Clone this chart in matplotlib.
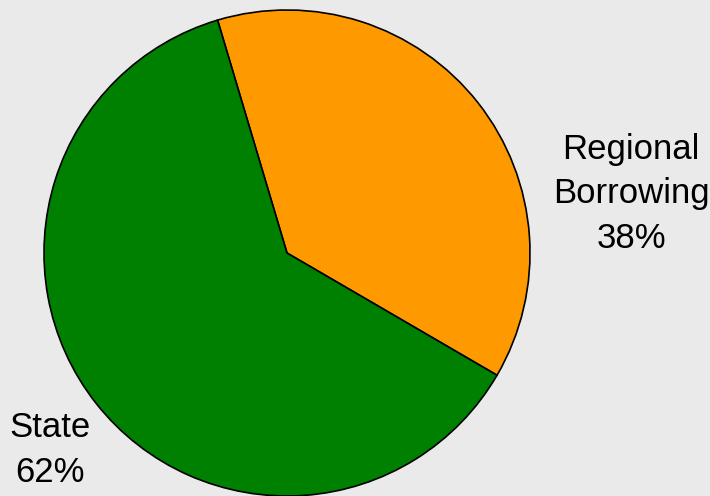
import matplotlib.pyplot as plt

# data
labels = ["Regional\nBorrowing", "State"]
shares = [38, 62]
colors = ["#FF9900", "#008000"]

plt.rcParams["font.family"] = ["Liberation Sans", "DejaVu Sans"]

fig = plt.figure(figsize=(7.1, 4.96), dpi=100)
fig.patch.set_facecolor("#EAEAEA")
ax = fig.add_axes([0, 0, 1, 1])
ax.set_facecolor("#EAEAEA")

# pie in pixel-like units so it lands where the reference has it
ax.pie(shares, colors=colors, startangle=106.6, counterclock=False,
       center=(287, 243), radius=243,
       wedgeprops={"edgecolor": "black", "linewidth": 1.2})
ax.set_xlim(0, 710)
ax.set_ylim(0, 496)
ax.set_aspect("equal")
ax.axis("off")

# labels placed outside, next to their slices
label_pos = [(631, 302), (50, 46)]
for lab, val, (x, y) in zip(labels, shares, label_pos):
    ax.text(x, y, "{}\n{}%".format(lab, val), ha="center", va="center",
            fontsize=25, linespacing=1.45, color="black")

plt.savefig("out.png", dpi=100, facecolor=fig.get_facecolor())
